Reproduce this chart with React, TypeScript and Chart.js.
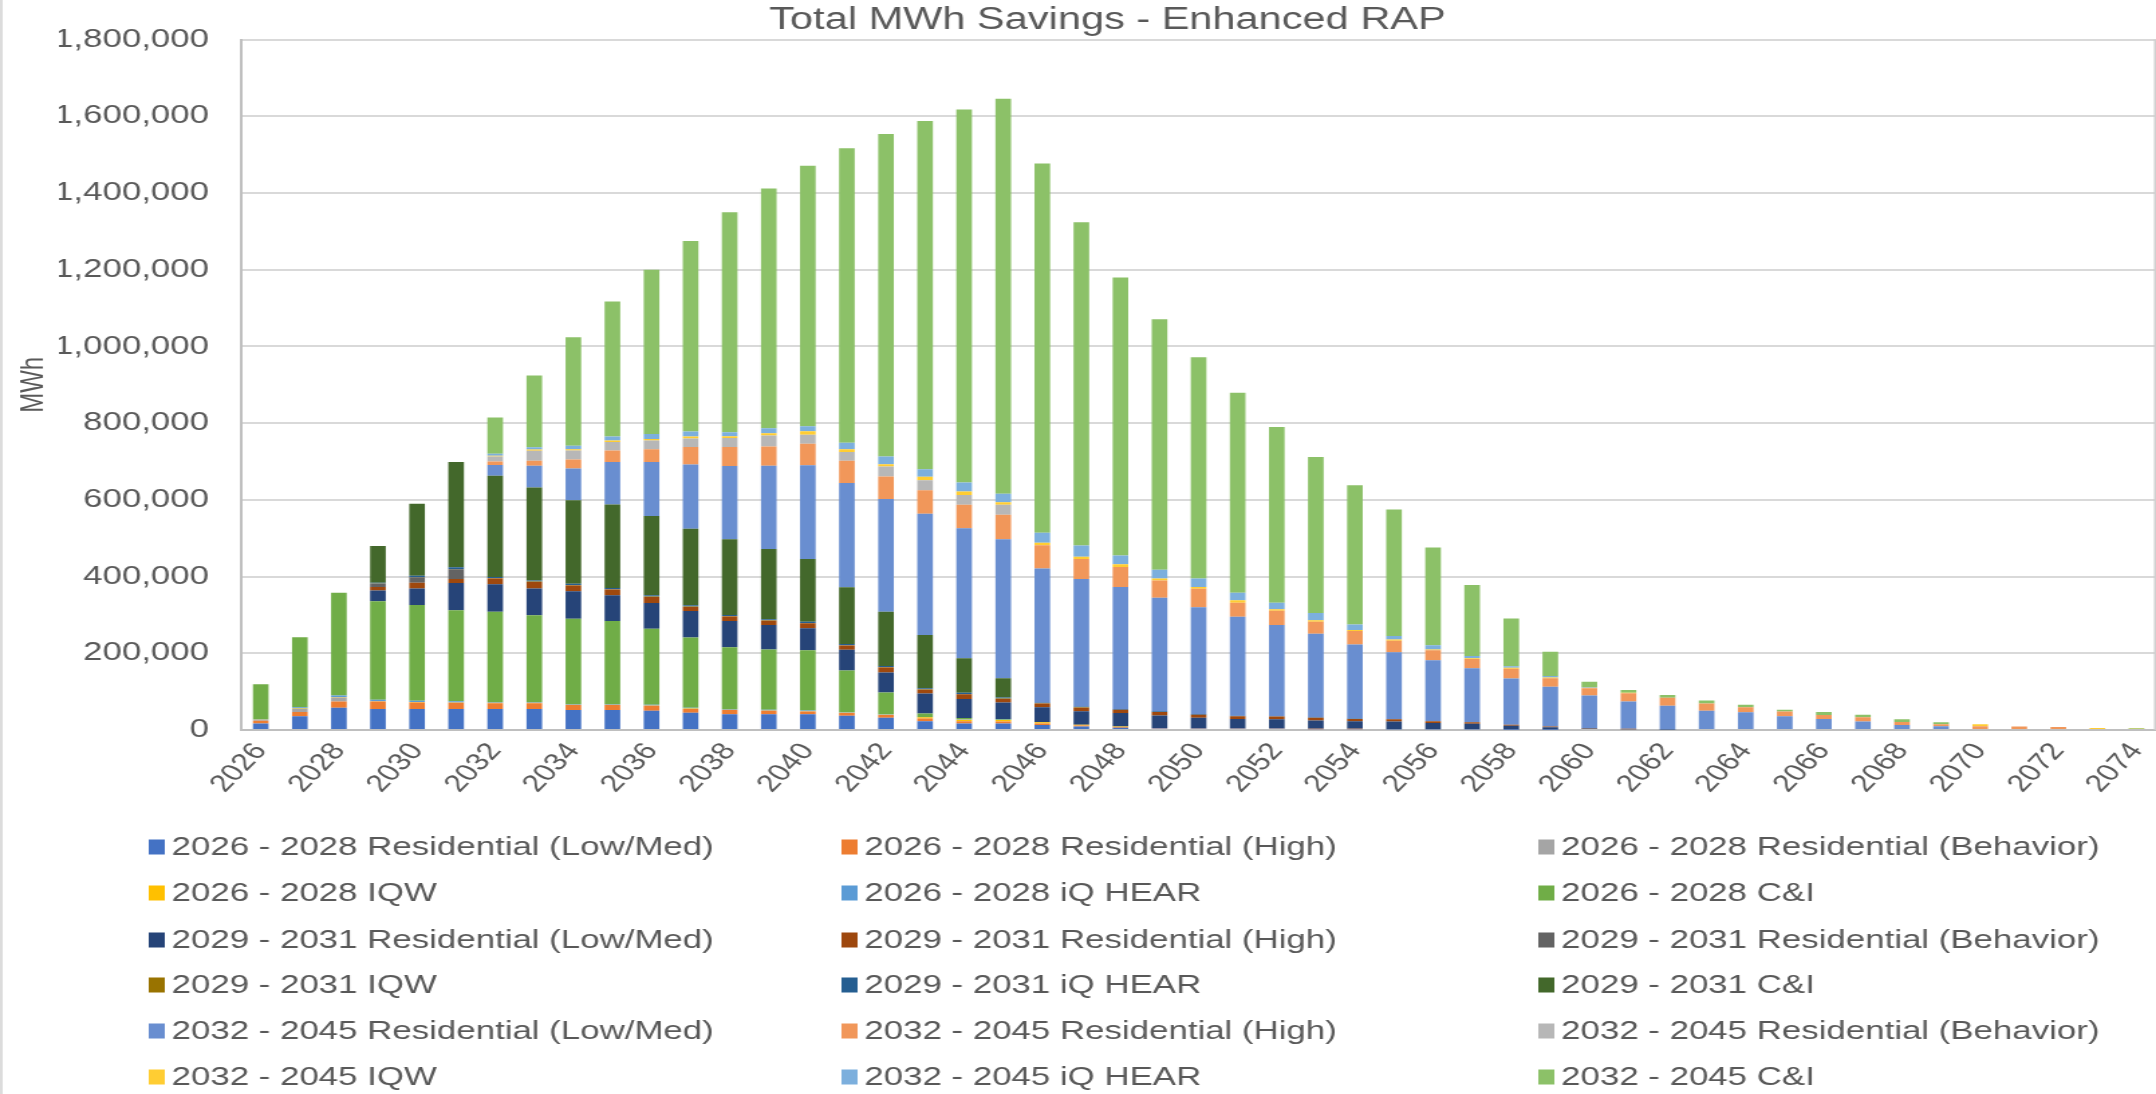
import React, { useEffect, useRef } from 'react';
import { Chart, registerables } from 'chart.js';

Chart.register(...registerables);

// ---------------- DATA ----------------
const YEARS = [
  '2026', '2027', '2028', '2029', '2030', '2031', '2032', '2033', '2034', '2035',
  '2036', '2037', '2038', '2039', '2040', '2041', '2042', '2043', '2044', '2045',
  '2046', '2047', '2048', '2049', '2050', '2051', '2052', '2053', '2054', '2055',
  '2056', '2057', '2058', '2059', '2060', '2061', '2062', '2063', '2064', '2065',
  '2066', '2067', '2068', '2069', '2070', '2071', '2072', '2073', '2074',
];

const SERIES_NAMES = [
  '2026 - 2028 Residential (Low/Med)', '2026 - 2028 Residential (High)', '2026 - 2028 Residential (Behavior)',
  '2026 - 2028 IQW', '2026 - 2028 iQ HEAR', '2026 - 2028 C&I',
  '2029 - 2031 Residential (Low/Med)', '2029 - 2031 Residential (High)', '2029 - 2031 Residential (Behavior)',
  '2029 - 2031 IQW', '2029 - 2031 iQ HEAR', '2029 - 2031 C&I',
  '2032 - 2045 Residential (Low/Med)', '2032 - 2045 Residential (High)', '2032 - 2045 Residential (Behavior)',
  '2032 - 2045 IQW', '2032 - 2045 iQ HEAR', '2032 - 2045 C&I',
];

const SERIES_COLORS = [
  '#4472C4', '#ED7D31', '#A5A5A5', '#FFC000', '#5B9BD5', '#70AD47',
  '#264478', '#9E480E', '#636363', '#997300', '#255E91', '#43682B',
  '#698ED0', '#F1975A', '#B7B7B7', '#FFCD33', '#7CAFDD', '#8CC168',
];

const A_RES_LOW = [
  17000, 36000, 58000, 55000, 55000, 55000, 55000, 55000, 52000, 52000,
  50000, 45000, 41000, 41000, 41000, 37000, 32000, 23000, 17000, 17000,
  13000, 9000, 6000, 4000, 3000, 3000, 3000, 2000, 2000, 2000,
  2000, 2000, 1000, 1000, 0, 0, 0, 0, 0, 0,
  0, 0, 0, 0, 0, 0, 0, 0, 0,
];
const A_RES_HIGH = [
  7000, 11000, 16000, 19000, 17000, 16000, 15000, 15000, 13000, 13000,
  13000, 10000, 11000, 9000, 7000, 7000, 7000, 7000, 6000, 5000,
  4000, 3000, 2000, 1000, 1000, 1000, 1000, 1000, 1000, 0,
  0, 0, 0, 0, 0, 0, 0, 0, 0, 0,
  0, 0, 0, 0, 0, 0, 0, 0, 0,
];
const A_RES_BEH = [
  2000, 8000, 11000, 0, 0, 0, 0, 0, 0, 0,
  0, 0, 0, 0, 0, 0, 0, 0, 0, 0,
  0, 0, 0, 0, 0, 0, 0, 0, 0, 0,
  0, 0, 0, 0, 0, 0, 0, 0, 0, 0,
  0, 0, 0, 0, 0, 0, 0, 0, 0,
];
const A_IQW = [
  1000, 1000, 1000, 1000, 1000, 1000, 1000, 1000, 1000, 1000,
  1000, 1000, 1000, 1000, 1000, 1000, 1000, 3000, 4000, 4000,
  3000, 2000, 1000, 0, 0, 0, 0, 0, 0, 0,
  0, 0, 0, 0, 0, 0, 0, 0, 0, 0,
  0, 0, 0, 0, 0, 0, 0, 0, 0,
];
const A_HEAR = [
  1000, 3000, 4000, 4000, 3000, 3000, 2000, 2000, 2000, 2000,
  2000, 2000, 2000, 2000, 2000, 1000, 1000, 1000, 1000, 1000,
  0, 0, 0, 0, 0, 0, 0, 0, 0, 0,
  0, 0, 0, 0, 0, 0, 0, 0, 0, 0,
  0, 0, 0, 0, 0, 0, 0, 0, 0,
];
const A_CI = [
  91000, 183000, 268000, 257000, 250000, 237000, 235000, 226000, 222000, 216000,
  198000, 183000, 161000, 157000, 157000, 109000, 57000, 9000, 3000, 2000,
  0, 0, 0, 0, 0, 0, 0, 0, 0, 0,
  0, 0, 0, 0, 0, 0, 0, 0, 0, 0,
  0, 0, 0, 0, 0, 0, 0, 0, 0,
];
const B_RES_LOW = [
  0, 0, 0, 28000, 43000, 71000, 72000, 70000, 72000, 67000,
  67000, 69000, 68000, 64000, 57000, 54000, 52000, 52000, 50000, 43000,
  39000, 35000, 35000, 33000, 28000, 25000, 24000, 22000, 20000, 20000,
  16000, 14000, 10000, 6000, 4000, 2000, 1000, 0, 0, 0,
  0, 0, 0, 0, 0, 0, 0, 0, 0,
];
const B_RES_HIGH = [
  0, 0, 0, 9000, 15000, 11000, 15000, 17000, 15000, 15000,
  16000, 11000, 12000, 11000, 13000, 11000, 13000, 10000, 12000, 9000,
  10000, 9000, 9000, 9000, 8000, 7000, 7000, 7000, 6000, 6000,
  5000, 4000, 3000, 2000, 1000, 1000, 0, 0, 0, 0,
  0, 0, 0, 0, 0, 0, 0, 0, 0,
];
const B_RES_BEH = [
  0, 0, 0, 8000, 14000, 25000, 0, 0, 0, 0,
  0, 0, 0, 0, 0, 0, 0, 0, 0, 0,
  0, 0, 0, 0, 0, 0, 0, 0, 0, 0,
  0, 0, 0, 0, 0, 0, 0, 0, 0, 0,
  0, 0, 0, 0, 0, 0, 0, 0, 0,
];
const B_IQW = [
  0, 0, 0, 1000, 1000, 1000, 1000, 1000, 1000, 1000,
  1000, 1000, 1000, 1000, 1000, 1000, 1000, 1000, 1000, 1000,
  1000, 1000, 0, 0, 0, 0, 0, 0, 0, 0,
  0, 0, 0, 0, 0, 0, 0, 0, 0, 0,
  0, 0, 0, 0, 0, 0, 0, 0, 0,
];
const B_HEAR = [
  0, 0, 0, 2000, 3000, 4000, 3000, 3000, 3000, 3000,
  3000, 3000, 3000, 3000, 3000, 3000, 3000, 3000, 3000, 3000,
  2000, 2000, 2000, 2000, 2000, 1000, 1000, 1000, 1000, 1000,
  0, 0, 0, 0, 0, 0, 0, 0, 0, 0,
  0, 0, 0, 0, 0, 0, 0, 0, 0,
];
const B_CI = [
  0, 0, 0, 96000, 188000, 275000, 264000, 242000, 218000, 218000,
  207000, 200000, 197000, 183000, 164000, 148000, 141000, 139000, 90000, 50000,
  0, 0, 0, 0, 0, 0, 0, 0, 0, 0,
  0, 0, 0, 0, 0, 0, 0, 0, 0, 0,
  0, 0, 0, 0, 0, 0, 0, 0, 0,
];
const C_RES_LOW = [
  0, 0, 0, 0, 0, 0, 28000, 57000, 83000, 111000,
  141000, 167000, 191000, 217000, 244000, 272000, 294000, 316000, 339000, 362000,
  349000, 333000, 318000, 296000, 278000, 258000, 238000, 218000, 193000, 174000,
  159000, 141000, 120000, 104000, 85000, 71000, 62000, 50000, 46000, 36000,
  29000, 22000, 13000, 10000, 0, 0, 0, 0, 0,
];
const C_RES_HIGH = [
  0, 0, 0, 0, 0, 0, 9000, 13000, 23000, 30000,
  33000, 46000, 50000, 50000, 56000, 58000, 59000, 61000, 61000, 64000,
  61000, 52000, 52000, 45000, 48000, 37000, 37000, 31000, 35000, 30000,
  26000, 24000, 26000, 22000, 19000, 22000, 21000, 19000, 13000, 12000,
  10000, 11000, 8000, 5000, 10000, 9000, 8000, 0, 0,
];
const C_RES_BEH = [
  0, 0, 0, 0, 0, 0, 13000, 26000, 24000, 22000,
  23000, 22000, 23000, 29000, 24000, 23000, 26000, 26000, 26000, 26000,
  0, 0, 0, 0, 0, 0, 0, 0, 0, 0,
  0, 0, 0, 0, 0, 0, 0, 0, 0, 0,
  0, 0, 0, 0, 0, 0, 0, 0, 0,
];
const C_IQW = [
  0, 0, 0, 0, 0, 0, 2000, 3000, 3000, 4000,
  4000, 5000, 5000, 6000, 9000, 7000, 6000, 9000, 9000, 7000,
  6000, 6000, 7000, 5000, 5000, 6000, 4000, 4000, 3000, 3000,
  2000, 2000, 2000, 2000, 1000, 1000, 0, 0, 0, 0,
  0, 0, 0, 0, 5000, 0, 0, 5000, 3000,
];
const C_HEAR = [
  0, 0, 0, 0, 0, 0, 5000, 6000, 9000, 10000,
  13000, 13000, 10000, 13000, 13000, 17000, 20000, 20000, 23000, 22000,
  26000, 29000, 23000, 23000, 22000, 20000, 17000, 19000, 14000, 9000,
  11000, 6000, 4000, 4000, 2000, 0, 0, 0, 0, 0,
  0, 0, 0, 0, 0, 0, 0, 0, 0,
];
const C_CI = [
  0, 0, 0, 0, 0, 0, 95000, 187000, 283000, 352000,
  428000, 497000, 574000, 625000, 679000, 768000, 841000, 908000, 973000, 1030000,
  963000, 843000, 725000, 653000, 577000, 521000, 458000, 407000, 363000, 330000,
  255000, 185000, 125000, 63000, 14000, 7000, 7000, 8000, 7000, 5000,
  8000, 7000, 7000, 5000, 0, 0, 0, 0, 2000,
];

const SERIES_VALUES = [
  A_RES_LOW, A_RES_HIGH, A_RES_BEH, A_IQW, A_HEAR, A_CI,
  B_RES_LOW, B_RES_HIGH, B_RES_BEH, B_IQW, B_HEAR, B_CI,
  C_RES_LOW, C_RES_HIGH, C_RES_BEH, C_IQW, C_HEAR, C_CI,
];

const TITLE = 'Total MWh Savings - Enhanced RAP';
const Y_TITLE = 'MWh';
const Y_MAX = 1800000;
const Y_STEP = 200000;

// ---------------- LAYOUT ----------------
const OUT_W = 2156;
const OUT_H = 1094;
const STRETCH = 1.34;
const W = Math.round(OUT_W / STRETCH);
const FONT = '"Liberation Sans", Arial, Helvetica, sans-serif';
const TEXT_COLOR = '#595959';
const LEGEND_COL_X = [111, 628, 1148];
const LEGEND_ROW_Y = [847, 893, 940, 985, 1031, 1077];
const LEGEND_FONT = 26;

export default function App() {
  const ref = useRef<HTMLCanvasElement | null>(null);

  useEffect(() => {
    document.body.style.margin = '0';
    document.body.style.overflow = 'hidden';
    const canvas = ref.current;
    if (!canvas) return;

    const legendPlugin = {
      id: 'gridLegend',
      afterDraw(chart: any) {
        const ctx = chart.ctx as CanvasRenderingContext2D;
        const { top, bottom, right } = chart.chartArea;
        ctx.save();
        ctx.strokeStyle = '#D0D0D0';
        ctx.lineWidth = 1.5;
        ctx.beginPath();
        ctx.moveTo(right - 0.75, top);
        ctx.lineTo(right - 0.75, bottom);
        ctx.stroke();
        ctx.beginPath();
        ctx.moveTo(1, 0);
        ctx.lineTo(1, OUT_H);
        ctx.stroke();

        ctx.font = `${LEGEND_FONT}px ${FONT}`;
        ctx.textBaseline = 'middle';
        ctx.textAlign = 'left';
        chart.data.datasets.forEach((ds: any, i: number) => {
          const col = i % 3;
          const row = Math.floor(i / 3);
          const x = LEGEND_COL_X[col];
          const y = LEGEND_ROW_Y[row];
          ctx.fillStyle = ds.backgroundColor;
          ctx.fillRect(x, y - 7.5, 12, 15);
          ctx.fillStyle = TEXT_COLOR;
          ctx.fillText(ds.label, x + 17, y + 1);
        });
        ctx.restore();
      },
    };

    const chart = new Chart(canvas, {
      type: 'bar',
      data: {
        labels: YEARS,
        datasets: SERIES_VALUES.map((vals, i) => ({
          label: SERIES_NAMES[i],
          data: vals,
          backgroundColor: SERIES_COLORS[i],
          borderWidth: 0,
          barPercentage: 0.5,
          categoryPercentage: 0.8,
        })),
      },
      options: {
        responsive: false,
        animation: false,
        devicePixelRatio: 1,
        layout: { padding: { left: 44, right: 0, top: 0, bottom: 254 } },
        plugins: {
          legend: { display: false },
          tooltip: { enabled: false },
          title: {
            display: true,
            text: TITLE,
            color: TEXT_COLOR,
            font: { size: 31, family: FONT, weight: 'normal' },
            padding: { top: 1, bottom: 1 },
          },
        },
        scales: {
          x: {
            stacked: true,
            grid: { display: false, drawTicks: false },
            border: { display: true, color: '#BFBFBF', width: 2 },
            ticks: {
              autoSkip: false,
              minRotation: 53,
              maxRotation: 53,
              color: TEXT_COLOR,
              font: { size: 24, family: FONT },
              padding: 8,
              callback: (_v: any, i: number) => (i % 2 === 0 ? YEARS[i] : ''),
            },
            afterFit: (s: any) => {
              s.height = 110;
              s.paddingLeft = 0;
              s.paddingRight = 0;
            },
          },
          y: {
            stacked: true,
            min: 0,
            max: Y_MAX,
            ticks: {
              stepSize: Y_STEP,
              color: TEXT_COLOR,
              font: { size: 26, family: FONT },
              padding: 24,
              callback: (v: any) => Number(v).toLocaleString('en-US'),
            },
            grid: { color: '#D9D9D9', lineWidth: 2, drawTicks: false },
            border: { display: true, color: '#BFBFBF', width: 2 },
            title: {
              display: true,
              text: Y_TITLE,
              color: TEXT_COLOR,
              font: { size: 24, family: FONT },
              padding: { top: -33, bottom: 0 },
            },
            afterFit: (s: any) => {
              s.width = 136;
            },
          },
        },
      },
      plugins: [legendPlugin],
    } as any);

    return () => chart.destroy();
  }, []);

  return (
    <canvas
      ref={ref}
      width={W}
      height={OUT_H}
      style={{ display: 'block', width: OUT_W + 'px', height: OUT_H + 'px' }}
    />
  );
}
